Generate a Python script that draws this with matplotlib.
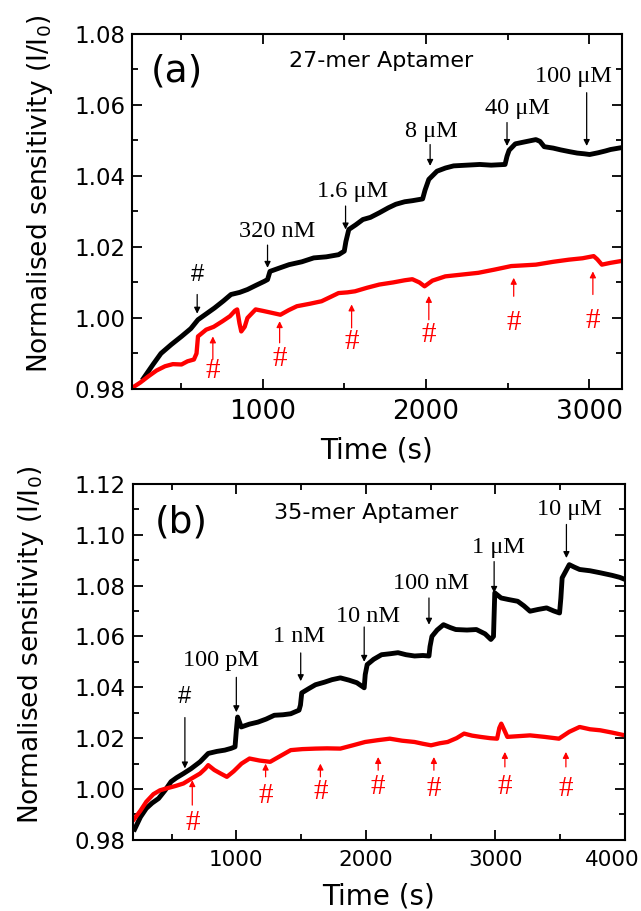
import matplotlib
matplotlib.use("Agg")
import matplotlib.pyplot as plt
import matplotlib.transforms as mtransforms
from matplotlib.ticker import MultipleLocator

# ---- panel (a): 27-mer aptamer, (time s, I/I0)
a_black = [(270, 0.9830), (330, 0.9870), (377, 0.9900), (440, 0.9925), (503, 0.9948),
           (560, 0.9970), (604, 0.9995), (650, 1.0010), (705, 1.0028), (760, 1.0048),
           (806, 1.0066), (860, 1.0072), (907, 1.0080), (960, 1.0092), (1010, 1.0103),
           (1030, 1.0108), (1045, 1.0131), (1100, 1.0140), (1162, 1.0150), (1240, 1.0158),
           (1313, 1.0169), (1390, 1.0172), (1465, 1.0178), (1500, 1.0188), (1510, 1.0215),
           (1528, 1.0249), (1570, 1.0262), (1614, 1.0277), (1660, 1.0283), (1715, 1.0296),
           (1770, 1.0310), (1816, 1.0320), (1870, 1.0327), (1917, 1.0330), (1980, 1.0335),
           (1995, 1.0360), (2018, 1.0390), (2068, 1.0413), (2120, 1.0422), (2170, 1.0428),
           (2250, 1.0430), (2330, 1.0432), (2400, 1.0430), (2485, 1.0432), (2497, 1.0455),
           (2510, 1.0472), (2548, 1.0490), (2600, 1.0495), (2674, 1.0502), (2699, 1.0497),
           (2725, 1.0482), (2780, 1.0478), (2826, 1.0473), (2880, 1.0468), (2927, 1.0464),
           (2970, 1.0462), (3003, 1.0460), (3056, 1.0465), (3100, 1.0470), (3131, 1.0474),
           (3194, 1.0479)]
a_red = [(200, 0.9803), (250, 0.9818), (301, 0.9836), (350, 0.9852), (402, 0.9864),
         (450, 0.9870), (503, 0.9869), (540, 0.9878), (579, 0.9883), (595, 0.9900),
         (604, 0.9948), (654, 0.9967), (700, 0.9975), (755, 0.9991), (800, 1.0005),
         (830, 1.0020), (844, 1.0024), (858, 0.9985), (869, 0.9962), (890, 0.9975),
         (907, 1.0000), (957, 1.0024), (1000, 1.0020), (1050, 1.0015), (1109, 1.0009),
         (1160, 1.0022), (1210, 1.0033), (1290, 1.0040), (1361, 1.0047), (1420, 1.0060),
         (1465, 1.0070), (1520, 1.0072), (1566, 1.0075), (1640, 1.0085), (1715, 1.0094),
         (1800, 1.0100), (1870, 1.0106), (1917, 1.0109), (1960, 1.0100), (1992, 1.0089),
         (2040, 1.0105), (2119, 1.0117), (2220, 1.0122), (2321, 1.0127), (2420, 1.0136),
         (2523, 1.0146), (2600, 1.0148), (2674, 1.0150), (2780, 1.0158), (2876, 1.0164),
         (2960, 1.0168), (3028, 1.0174), (3050, 1.0165), (3078, 1.0150), (3130, 1.0155),
         (3194, 1.0160)]

a_conc = ['320 nM', '1.6 μM', '8 μM', '40 μM', '100 μM']
a_conc_xy = [(1090, 1.0244), (1551, 1.0357), (2033, 1.0526), (2561, 1.0589), (2904, 1.0679)]
a_conc_arrow = [(1030, 1.0205, 1.0141), (1508, 1.0315, 1.0249), (2026, 1.0488, 1.0428),
                (2497, 1.0550, 1.0484), (2985, 1.0634, 1.0484)]
a_hash_black = (599, 1.0122, 1.0066, 1.0012)
a_red_arrow = [(695, 0.9883, 0.9948), (1104, 0.9930, 0.9991), (1545, 0.9972, 1.0038),
               (2018, 0.9995, 1.0062), (2538, 1.0061, 1.0113), (3023, 1.0066, 1.0131)]
a_red_hash_y = [0.9852, 0.9885, 0.9932, 0.9951, 0.9987, 0.9992]

# ---- panel (b): 35-mer aptamer
b_black = [(215, 0.9842), (260, 0.9890), (305, 0.9924), (350, 0.9945), (400, 0.9963),
           (450, 0.9995), (496, 1.0029), (540, 1.0045), (592, 1.0061), (650, 1.0080),
           (720, 1.0107), (783, 1.0140), (850, 1.0148), (911, 1.0153), (960, 1.0160),
           (990, 1.0166), (1000, 1.0230), (1010, 1.0283), (1038, 1.0244), (1100, 1.0255),
           (1166, 1.0263), (1230, 1.0275), (1293, 1.0290), (1360, 1.0292), (1420, 1.0296),
           (1484, 1.0310), (1495, 1.0330), (1505, 1.0378), (1560, 1.0395), (1611, 1.0410),
           (1680, 1.0420), (1739, 1.0430), (1803, 1.0437), (1870, 1.0428), (1930, 1.0418),
           (1987, 1.0398), (1995, 1.0450), (2010, 1.0489), (2060, 1.0510), (2121, 1.0528),
           (2190, 1.0532), (2248, 1.0536), (2310, 1.0528), (2376, 1.0523), (2440, 1.0525),
           (2487, 1.0523), (2495, 1.0560), (2510, 1.0600), (2550, 1.0625), (2599, 1.0646),
           (2650, 1.0635), (2694, 1.0627), (2780, 1.0625), (2853, 1.0627), (2920, 1.0610),
           (2965, 1.0588), (2985, 1.0600), (2995, 1.0771), (3044, 1.0751), (3100, 1.0745),
           (3172, 1.0738), (3220, 1.0720), (3267, 1.0699), (3330, 1.0706), (3395, 1.0712),
           (3450, 1.0700), (3495, 1.0692), (3505, 1.0750), (3515, 1.0830), (3570, 1.0882),
           (3610, 1.0872), (3650, 1.0863), (3730, 1.0858), (3809, 1.0850), (3900, 1.0840),
           (3960, 1.0832), (4000, 1.0824)]
b_red = [(210, 0.9881), (260, 0.9915), (305, 0.9950), (360, 0.9980), (410, 0.9995),
         (464, 1.0003), (530, 1.0012), (592, 1.0022), (650, 1.0040), (720, 1.0061),
         (760, 1.0080), (783, 1.0094), (830, 1.0075), (879, 1.0061), (927, 1.0048),
         (980, 1.0070), (1040, 1.0100), (1102, 1.0120), (1180, 1.0112), (1261, 1.0107),
         (1340, 1.0130), (1420, 1.0153), (1510, 1.0157), (1611, 1.0159), (1700, 1.0160),
         (1803, 1.0159), (1900, 1.0172), (1994, 1.0185), (2090, 1.0192), (2185, 1.0198),
         (2280, 1.0190), (2376, 1.0185), (2440, 1.0178), (2503, 1.0172), (2570, 1.0180),
         (2631, 1.0185), (2700, 1.0200), (2758, 1.0218), (2820, 1.0210), (2885, 1.0205),
         (2960, 1.0200), (3013, 1.0198), (3030, 1.0240), (3045, 1.0257), (3070, 1.0230),
         (3092, 1.0205), (3180, 1.0208), (3267, 1.0211), (3380, 1.0205), (3490, 1.0198),
         (3570, 1.0225), (3650, 1.0244), (3730, 1.0235), (3809, 1.0231), (3900, 1.0222),
         (4000, 1.0211)]

b_conc = ['100 pM', '1 nM', '10 nM', '100 nM', '1 μM', '10 μM']
b_conc_xy = [(879, 1.0504), (1484, 1.0600), (2019, 1.0680), (2503, 1.0806), (3022, 1.0950),
             (3570, 1.1100)]
b_conc_arrow = [(1000, 1.0439, 1.0302), (1497, 1.0535, 1.0424), (1987, 1.0637, 1.0500),
                (2487, 1.0751, 1.0646), (2990, 1.0894, 1.0771), (3548, 1.1040, 1.0908)]
b_hash_black = (603, 1.0360, 1.0281, 1.0081)
b_red_arrow = [(660, 0.9937, 1.0035), (1226, 1.0048, 1.0100), (1649, 1.0048, 1.0100),
               (2095, 1.0074, 1.0126), (2525, 1.0074, 1.0126), (3073, 1.0087, 1.0146),
               (3544, 1.0087, 1.0146)]
b_red_hash_y = [0.9866, 0.9974, 0.9987, 1.0007, 1.0001, 1.0007, 1.0001]

SANS = 'DejaVu Sans'
SERIF = 'Liberation Serif'
RED = '#ff0000'


def arrow(ax, x, y_from, y_to, color, lw=0.9, ms=9):
    ax.annotate('', xy=(x, y_to), xytext=(x, y_from),
                arrowprops=dict(arrowstyle='-|>', color=color, lw=lw,
                                mutation_scale=ms, shrinkA=0, shrinkB=0))


def draw_panel(ax, black, red, conc, conc_xy, conc_arrow, hash_black,
               red_arrow, red_hash_y, tag, title, xlim, ylim, ymax_tick, xt_size):
    t, v = zip(*black)
    ax.plot(t, v, color='k', lw=3.5)
    t, v = zip(*red)
    ax.plot(t, v, color=RED, lw=3.1)

    for lab, (x, y), (ax_x, y0, y1) in zip(conc, conc_xy, conc_arrow):
        ax.text(x, y, lab, family=SERIF, fontsize=17.5, ha='center', va='center')
        arrow(ax, ax_x, y0, y1, 'k')

    hx, hy, h0, h1 = hash_black
    ax.text(hx, hy, '#', family='Liberation Sans', fontsize=17, ha='center', va='center')
    arrow(ax, hx, h0, h1, 'k')

    for (x, y0, y1), hy in zip(red_arrow, red_hash_y):
        arrow(ax, x, y0, y1, RED)
        ax.text(x, hy, '#', family=SERIF, fontsize=21, color=RED, ha='center', va='center')

    ax.text(*tag[1], tag[0], family=SANS, fontsize=27, ha='center', va='center')
    ax.text(*title[1], title[0], family=SANS, fontsize=16, ha='center', va='center')

    ax.set_xlim(*xlim)
    ax.set_ylim(*ylim)
    ax.xaxis.set_major_locator(MultipleLocator(1000))
    ax.xaxis.set_minor_locator(MultipleLocator(500))
    ax.yaxis.set_minor_locator(MultipleLocator(0.01))
    ax.set_yticks([round(0.98 + 0.02 * i, 2) for i in range(ymax_tick)])
    ax.set_yticklabels([f'{0.98 + 0.02 * i:.2f}' for i in range(ymax_tick)])
    ax.tick_params(which='both', direction='in', top=True, right=True, width=1.3)
    ax.tick_params(which='major', length=7)
    ax.tick_params(which='minor', length=4)
    ax.tick_params(axis='y', labelsize=16.5, pad=5)
    ax.tick_params(axis='x', labelsize=xt_size, pad=7)
    for lab in ax.get_xticklabels() + ax.get_yticklabels():
        lab.set_family(SANS)
    for s in ax.spines.values():
        s.set_linewidth(1.5)
    ax.set_xlabel('Time (s)', family=SANS, fontsize=20)
    ax.set_ylabel(r'Normalised sensitivity (I/I$_\mathregular{0}$)', family=SANS, fontsize=19)


def main():
    fig = plt.figure(figsize=(6.41, 9.11), dpi=100)
    ax_a = fig.add_axes([0.206, 0.573, 0.764, 0.390])
    ax_b = fig.add_axes([0.207, 0.078, 0.768, 0.391])

    draw_panel(ax_a, a_black, a_red, a_conc, a_conc_xy, a_conc_arrow, a_hash_black,
               a_red_arrow, a_red_hash_y, ('(a)', (473, 1.0693)),
               ('27-mer Aptamer', (1728, 1.0723)), (200, 3200), (0.98, 1.08), 6, 19)
    draw_panel(ax_b, b_black, b_red, b_conc, b_conc_xy, b_conc_arrow, b_hash_black,
               b_red_arrow, b_red_hash_y, ('(b)', (575, 1.1047)),
               ('35-mer Aptamer', (2003, 1.1086)), (200, 4000), (0.98, 1.12), 8, 15.5)

    ax_a.yaxis.set_label_coords(-0.157, 0.55)
    ax_b.yaxis.set_label_coords(-0.177, 0.548)
    ax_a.xaxis.set_label_coords(0.5, -0.135)
    ax_b.xaxis.set_label_coords(0.5, -0.12)

    # last tick label of (b) sits at the figure edge: nudge it inside
    fig.canvas.draw()
    last = [lab for lab in ax_b.get_xticklabels() if lab.get_text() == '4000']
    shift = mtransforms.ScaledTranslation(-0.13, 0, fig.dpi_scale_trans)
    for lab in last:
        lab.set_transform(lab.get_transform() + shift)

    fig.savefig('out.png', dpi=100)
    plt.close(fig)


if __name__ == '__main__':
    main()
